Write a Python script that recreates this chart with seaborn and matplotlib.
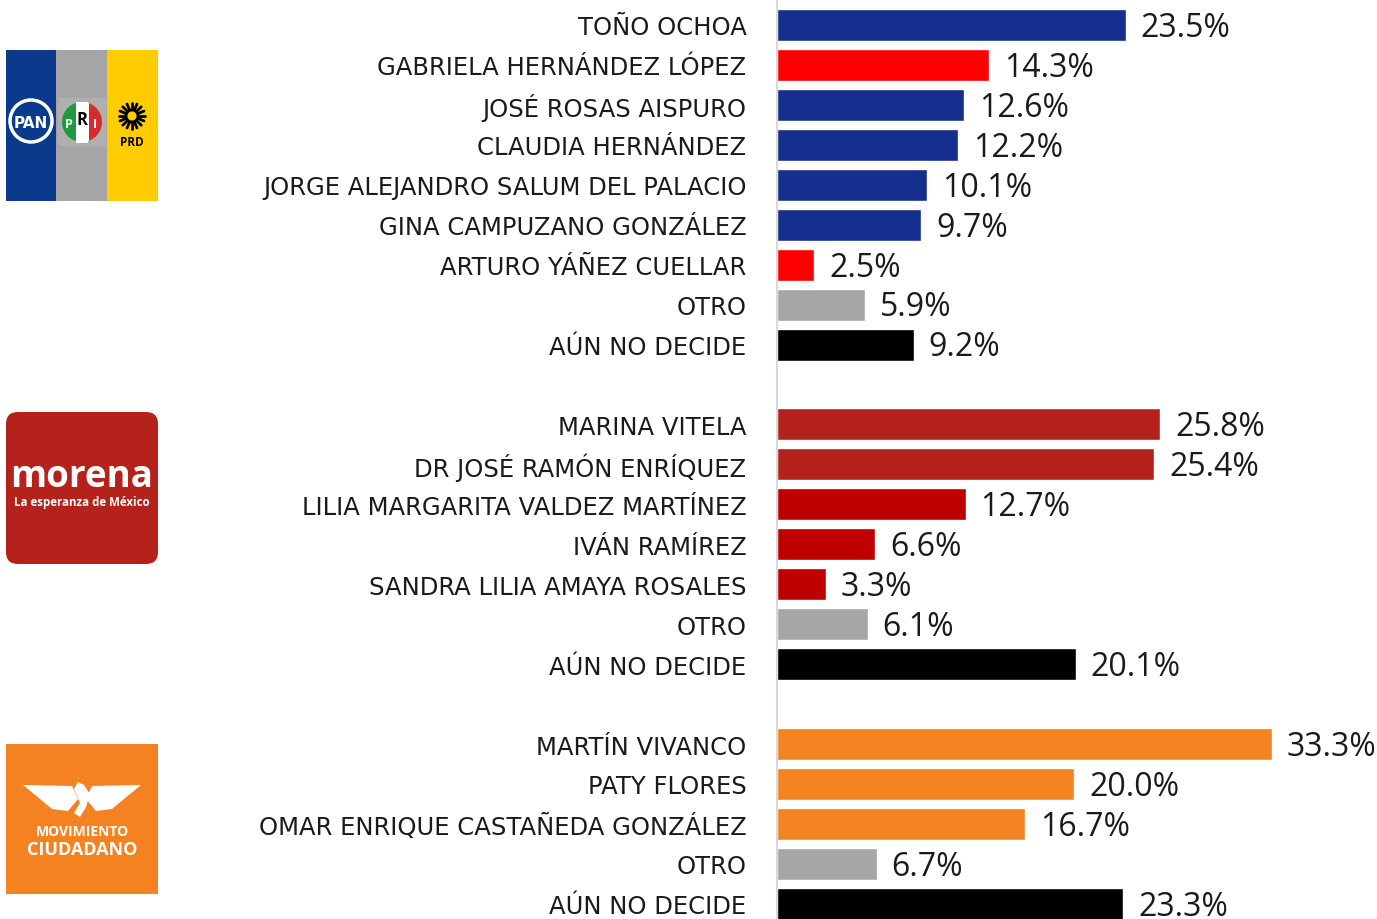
import numpy as np
import pandas as pd
import seaborn as sns
import matplotlib.pyplot as plt
from matplotlib.patches import Rectangle, FancyBboxPatch, Circle, Polygon

# 数据：三组候选人
names_1 = ["TOÑO OCHOA", "GABRIELA HERNÁNDEZ LÓPEZ", "JOSÉ ROSAS AISPURO",
           "CLAUDIA HERNÁNDEZ", "JORGE ALEJANDRO SALUM DEL PALACIO",
           "GINA CAMPUZANO GONZÁLEZ", "ARTURO YÁÑEZ CUELLAR", "OTRO",
           "AÚN NO DECIDE"]
values_1 = [23.5, 14.3, 12.6, 12.2, 10.1, 9.7, 2.5, 5.9, 9.2]

names_2 = ["MARINA VITELA", "DR JOSÉ RAMÓN ENRÍQUEZ",
           "LILIA MARGARITA VALDEZ MARTÍNEZ", "IVÁN RAMÍREZ",
           "SANDRA LILIA AMAYA ROSALES", "OTRO", "AÚN NO DECIDE"]
values_2 = [25.8, 25.4, 12.7, 6.6, 3.3, 6.1, 20.1]

names_3 = ["MARTÍN VIVANCO", "PATY FLORES", "OMAR ENRIQUE CASTAÑEDA GONZÁLEZ",
           "OTRO", "AÚN NO DECIDE"]
values_3 = [33.3, 20.0, 16.7, 6.7, 23.3]

BLUE, RED, GRAY, BLACK = "#142F8E", "#FF0000", "#A6A6A6", "#000000"
MOR1, MOR2, ORANGE = "#B5221B", "#C00000", "#F58220"
colors_1 = [BLUE, RED, BLUE, BLUE, BLUE, BLUE, RED, GRAY, BLACK]
colors_2 = [MOR1, MOR1, MOR2, MOR2, MOR2, GRAY, BLACK]
colors_3 = [ORANGE, ORANGE, ORANGE, GRAY, BLACK]

# 组间留一个空位
rows = []
start = 0
for names, vals, cols in [(names_1, values_1, colors_1),
                          (names_2, values_2, colors_2),
                          (names_3, values_3, colors_3)]:
    for i, (n, v, c) in enumerate(zip(names, vals, cols)):
        rows.append({"pos": start + i, "name": n, "value": v, "color": c})
    start += len(names) + 1
df = pd.DataFrame(rows)
df["id"] = df.index.astype(str)

sns.set_style("white")
plt.rcParams['font.family'] = ['Open Sans', 'DejaVu Sans']
TXT = "#1A1A1A"

fig = plt.figure(figsize=(13.77, 9.2), dpi=100)

# 徽标层（像素坐标）
lax = fig.add_axes([0, 0, 1, 1])
lax.set_xlim(0, 1377)
lax.set_ylim(920, 0)
lax.axis('off')

# PAN / PRI / PRD
lax.add_patch(Rectangle((6, 51), 50, 151, color="#0B3A8C", lw=0))
lax.add_patch(Rectangle((56, 51), 51, 151, color="#A5A5A5", lw=0))
lax.add_patch(Rectangle((107, 51), 51, 151, color="#FFCC00", lw=0))
lax.add_patch(Circle((31, 122), 21, fc="none", ec="white", lw=2.5))
lax.text(31, 123, "PAN", color="white", fontsize=11, fontweight="bold",
         ha="center", va="center", family="DejaVu Sans Condensed")
lax.add_patch(Rectangle((58, 99), 48, 48, color="#AFAFAF", lw=0))
clip = Circle((82, 123), 20, transform=lax.transData)
for x0, c in [(62, "#1E9B3E"), (76, "white"), (89, "#D62B2B")]:
    r = Rectangle((x0, 103), 14 if c != "white" else 13, 40, color=c, lw=0)
    lax.add_patch(r)
    r.set_clip_path(clip)
lax.add_patch(Rectangle((76, 103), 12, 41, color="white", lw=0))
lax.text(69, 124, "P", color="white", fontsize=9, fontweight="bold", ha="center", va="center")
lax.text(82, 120, "R", color="black", fontsize=12, fontweight="bold", ha="center", va="center")
lax.text(95, 124, "I", color="white", fontsize=9, fontweight="bold", ha="center", va="center")
ang = np.linspace(0, 2 * np.pi, 16, endpoint=False)
for a in ang:
    lax.plot([132 + 7 * np.cos(a), 132 + 13 * np.cos(a)],
             [117 + 7 * np.sin(a), 117 + 13 * np.sin(a)], color="black", lw=2)
lax.add_patch(Circle((132, 117), 6, fc="none", ec="black", lw=2))
lax.text(132, 142, "PRD", color="black", fontsize=8.5, fontweight="bold",
         ha="center", va="center")

# morena
lax.add_patch(FancyBboxPatch((14, 421), 136, 136, boxstyle="round,pad=8,rounding_size=12",
                             fc="#B5221B", ec="none"))
lax.text(82, 477, "morena", color="white", fontsize=26.5, fontweight="bold",
         ha="center", va="center")
lax.text(82, 503, "La esperanza de México", color="white", fontsize=8.3,
         fontweight="bold", ha="center", va="center")

# Movimiento Ciudadano
lax.add_patch(Rectangle((6, 745), 152, 150, color=ORANGE, lw=0))
lax.add_patch(Polygon([(23, 786), (72, 787), (78, 800), (68, 812), (52, 810),
                       (40, 800)], fc="white", ec="none"))
lax.add_patch(Polygon([(141, 786), (92, 787), (86, 800), (96, 812), (112, 810),
                       (124, 800)], fc="white", ec="none"))
lax.add_patch(Polygon([(74, 790), (78, 783), (84, 786), (90, 795), (86, 808),
                       (80, 818), (74, 814), (80, 804)], fc="white", ec="none"))
lax.text(82, 832, "MOVIMIENTO", color="white", fontsize=10, fontweight="bold",
         ha="center", va="center")
lax.text(82, 850, "CIUDADANO", color="white", fontsize=13, fontweight="bold",
         ha="center", va="center")

# 条形图
ax = fig.add_axes([777 / 1377, 0, 1 - 777 / 1377, 1])
ax.patch.set_alpha(0)
sns.barplot(data=df, x="value", y="pos", hue="id", palette=list(df["color"]),
            orient="h", native_scale=True, dodge=False, legend=False,
            width=0.8, saturation=1, ax=ax)
ax.set_xlim(0, 40.4)
ax.set_ylim(22.38, -0.65)
ax.set_yticks(df["pos"], df["name"])
ax.tick_params(axis="y", length=0, pad=22, labelsize=17.5, labelcolor=TXT)
for lab in ax.get_yticklabels():
    lab.set_family("DejaVu Sans")
ax.set_xticks([])
ax.set_xlabel("")
ax.set_ylabel("")
for s in ["top", "right", "bottom"]:
    ax.spines[s].set_visible(False)
ax.spines["left"].set_color("#D9D9D9")
ax.spines["left"].set_linewidth(1.5)

for p, v in zip(df["pos"], df["value"]):
    ax.text(v + 1.0, p + 0.06, f"{v:.1f}%", va="center", ha="left",
            fontsize=23, color=TXT)

fig.savefig("out.png", dpi=100)
